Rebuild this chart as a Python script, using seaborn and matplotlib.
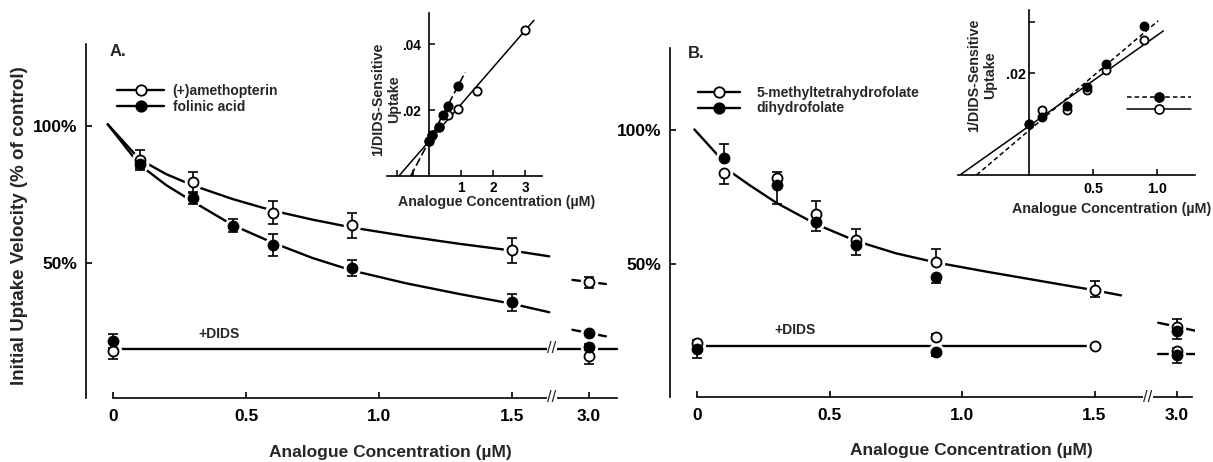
import matplotlib
matplotlib.use("Agg")
import matplotlib.pyplot as plt
import seaborn as sns
from matplotlib.lines import Line2D

# ---------------- data ----------------
# Panel A main plot (% of control)
a_ameth_x = [0.1, 0.3, 0.6, 0.9, 1.5]
a_ameth_y = [87.7, 79.8, 68.6, 63.9, 54.8]
a_ameth_err = [3.6, 3.6, 4.1, 4.7, 4.6]
a_fol_x = [0.1, 0.3, 0.45, 0.6, 0.9, 1.5]
a_fol_y = [86.2, 73.8, 63.8, 56.6, 48.4, 35.8]
a_fol_err = [1.2, 2.0, 2.4, 4.0, 2.9, 3.1]
a_curve_x = [-0.02, 0.1, 0.2, 0.3, 0.45, 0.6, 0.75, 0.9, 1.1, 1.3, 1.5, 1.64]
a_ameth_curve = [100.8, 88.0, 82.6, 78.5, 73.5, 69.3, 66.0, 63.1, 60.0, 57.2, 54.7, 52.6]
a_fol_curve = [100.8, 86.0, 78.6, 72.6, 64.0, 57.6, 52.0, 47.4, 42.8, 38.9, 35.3, 32.2]
a_ameth_3 = 43.2
a_ameth_3_err = 2.0
a_ameth_3_seg = [44.0, 42.5]
a_fol_3 = 24.6
a_fol_3_seg = [25.8, 23.4]
a_dids_ameth = [18.1, 16.4]      # at 0 and 3.0 uM
a_dids_ameth_err = [3.0, 3.0]
a_dids_fol = [21.6, 19.5]
a_dids_fol_err = [2.6, 1.0]
a_dids_level = 18.8

# Panel B main plot
b_mthf_x = [0.1, 0.3, 0.45, 0.6, 0.9, 1.5]
b_mthf_y = [83.8, 82.0, 68.7, 59.0, 50.9, 40.3]
b_mthf_err_lo = [3.9, 0.0, 0.0, 0.0, 0.0, 2.7]
b_mthf_err_hi = [0.0, 2.2, 4.8, 4.1, 4.7, 3.5]
b_dhf_x = [0.1, 0.3, 0.45, 0.6, 0.9]
b_dhf_y = [89.4, 79.5, 65.8, 57.1, 45.3]
b_dhf_err_lo = [0.0, 7.1, 3.4, 3.7, 2.3]
b_dhf_err_hi = [5.3, 0.0, 0.0, 0.0, 0.0]
b_curve_x = [-0.01, 0.07, 0.125, 0.2, 0.3, 0.45, 0.6, 0.75, 0.9, 1.1, 1.3, 1.5, 1.6]
b_curve_y = [100.2, 91.5, 84.5, 79.3, 72.8, 64.8, 58.6, 54.0, 50.6, 47.0, 43.6, 40.2, 38.3]
b_hi3_mthf, b_hi3_mthf_err = 26.6, 2.8
b_hi3_dhf, b_hi3_dhf_err = 25.1, 3.2
b_hi3_seg = [28.1, 25.1]
b_lo3_mthf, b_lo3_mthf_err = 17.5, 1.3
b_lo3_dhf, b_lo3_dhf_err = 16.0, 2.8
b_lo3_seg = [16.4, 16.4]
b_dids_x = [0.0, 0.9, 1.5]
b_dids_mthf = [20.4, 22.9, 19.5]
b_dids_mthf_err = [1.2, 1.0, 0.0]
b_dids_dhf_x = [0.0, 0.9]
b_dids_dhf = [18.2, 17.3]
b_dids_dhf_err = [3.4, 1.6]
b_dids_level = 19.3

# Inset A (1/DIDS-sensitive uptake)
ia_ameth_x = [0, 0.1, 0.3, 0.6, 0.9, 1.5, 3.0]
ia_ameth_y = [0.0105, 0.0125, 0.0148, 0.0184, 0.0203, 0.0259, 0.0441]
ia_fol_x = [0, 0.1, 0.3, 0.45, 0.6, 0.9]
ia_fol_y = [0.0105, 0.0125, 0.0148, 0.0184, 0.0211, 0.0272]
ia_ameth_fit_x = [-0.94, 3.28]
ia_ameth_fit_y = [0.0, 0.0472]
ia_fol_fit_x = [-0.57, 1.13]
ia_fol_fit_y = [0.0, 0.0314]

# Inset B
ib_x = [0, 0.1, 0.3, 0.45, 0.6, 0.9]
ib_mthf_y = [0.0101, 0.0127, 0.0128, 0.0167, 0.0207, 0.0266]
ib_dhf_y = [0.0101, 0.0114, 0.0135, 0.0172, 0.0217, 0.0292]
ib_mthf_fit_x = [-0.54, 1.05]
ib_mthf_fit_y = [0.0, 0.0283]
ib_dhf_fit_x = [-0.41, 1.01]
ib_dhf_fit_y = [0.0, 0.0303]

main_ticks = [0, 0.5, 1.0, 1.5]
main_ticklabels = ["0", "0.5", "1.0", "1.5", "3.0"]

# ---------------- style ----------------
sns.set_theme(style="ticks")
plt.rcParams["font.family"] = ["Liberation Sans", "DejaVu Sans"]
plt.rcParams["font.weight"] = "bold"
plt.rcParams["axes.linewidth"] = 1.2
plt.rcParams["axes.edgecolor"] = "black"
plt.rcParams["xtick.color"] = "black"
plt.rcParams["ytick.color"] = "black"

W, H = 1213, 462
fig = plt.figure(figsize=(W / 100, H / 100), dpi=100)


def rect(l, t, r, b):
    return [l / W, 1 - b / H, (r - l) / W, (b - t) / H]


def fx(px):
    return px / W


def fy(py):
    return 1 - py / H


LW = 1.7
S_MAIN = 52
S_HALO = 160
BRK = dict(ha="center", va="center", fontsize=12, fontweight="normal",
           bbox=dict(facecolor="white", edgecolor="none", pad=0.3), zorder=7,
           clip_on=False)


def curve(ax, x, y, ls="-", lw=LW, z=2):
    sns.lineplot(x=x, y=y, ax=ax, color="black", lw=lw, linestyle=ls,
                 sort=False, estimator=None, zorder=z)


def points(ax, x, y, err, filled, s=S_MAIN, halo=S_HALO, cap=3.3):
    x = list(x)
    y = list(y)
    if halo:
        sns.scatterplot(x=x, y=y, ax=ax, s=halo, color="white", linewidth=0,
                        zorder=3, legend=False)
    if err is not None:
        ax.errorbar(x, y, yerr=err, fmt="none", ecolor="black", elinewidth=1.2,
                    capsize=cap, capthick=1.2, zorder=4)
    sns.scatterplot(x=x, y=y, ax=ax, s=s, color="black" if filled else "white",
                    edgecolor="black", linewidth=1.3, zorder=6 if filled else 5,
                    legend=False)


def setup_main(ax, xlim, ylim, xend, pos3, brk):
    ax.set_xlim(*xlim)
    ax.set_ylim(*ylim)
    ax.patch.set_alpha(0)
    for s in ["top", "right"]:
        ax.spines[s].set_visible(False)
    ax.spines["bottom"].set_bounds(0, xend)
    ax.set_xticks(main_ticks + [pos3])
    ax.set_xticklabels(main_ticklabels)
    ax.set_yticks([50, 100])
    ax.set_yticklabels(["50%", "100%"])
    ax.tick_params(axis="both", direction="in", length=4, width=1.2,
                   labelsize=12.5)
    ax.tick_params(axis="x", pad=8)
    ax.tick_params(axis="y", pad=6)
    for lab in ax.get_xticklabels() + ax.get_yticklabels():
        lab.set_fontweight("bold")
    ax.text(brk, 0, "//", transform=ax.get_xaxis_transform(), **BRK)


# ================= Panel A =================
A_POS3, A_BRK = 1.79, 1.65
axA = fig.add_axes(rect(86, 44, 620, 398))
setup_main(axA, (-0.1015, 1.906), (0.9, 130.1), 1.895, A_POS3, A_BRK)

curve(axA, a_curve_x, a_ameth_curve)
curve(axA, a_curve_x, a_fol_curve)
curve(axA, [A_POS3 - 0.063, A_POS3 + 0.063], a_ameth_3_seg)
curve(axA, [A_POS3 - 0.063, A_POS3 + 0.063], a_fol_3_seg)
curve(axA, [0.02, 1.895], [a_dids_level, a_dids_level])
axA.text(A_BRK, a_dids_level, "//", **BRK)

points(axA, a_ameth_x + [A_POS3], a_ameth_y + [a_ameth_3], a_ameth_err + [a_ameth_3_err], False)
points(axA, a_fol_x + [A_POS3], a_fol_y + [a_fol_3], a_fol_err + [0.0], True)
points(axA, [0, A_POS3], a_dids_ameth, a_dids_ameth_err, False)
points(axA, [0, A_POS3], a_dids_fol, a_dids_fol_err, True)

axA.legend(
    handles=[Line2D([], [], color="black", lw=LW, marker="o", mfc="white", mec="black", ms=7.5, mew=1.3),
             Line2D([], [], color="black", lw=LW, marker="o", mfc="black", mec="black", ms=7.5, mew=1.3)],
    labels=["(+)amethopterin", "folinic acid"], loc="upper left",
    bbox_to_anchor=(fx(117), fy(84)), bbox_transform=fig.transFigure,
    frameon=False, borderpad=0, borderaxespad=0, handlelength=3.4,
    handletextpad=0.6, labelspacing=0.15, prop=dict(weight="bold", size=10))

fig.text(fx(110), fy(52), "A.", ha="left", va="center", fontsize=12, fontweight="bold")
fig.text(fx(219), fy(334), "+DIDS", ha="center", va="center", fontsize=10, fontweight="bold")
fig.text(fx(390), fy(452), "Analogue Concentration (\u00b5M)", ha="center", va="center",
         fontsize=12.5, fontweight="bold")
fig.text(fx(20), fy(226), "Initial Uptake Velocity (% of control)", ha="center", va="center",
         rotation=90, fontsize=13.5, fontweight="bold")

# ----- inset A -----
iA = fig.add_axes(rect(387, 13, 542, 176))
iA.set_xlim(-1.31, 3.53)
iA.set_ylim(0, 0.0494)
iA.patch.set_alpha(0)
for s in ["top", "right"]:
    iA.spines[s].set_visible(False)
iA.spines["left"].set_position(("data", 0))
iA.set_xticks([-1, -0.5, 1, 2, 3])
iA.set_xticklabels(["", "", "1", "2", "3"])
iA.set_yticks([0.02, 0.04])
iA.set_yticklabels([".02", ".04"])
iA.tick_params(direction="in", length=4, width=1.1, labelsize=9.8)
iA.tick_params(axis="x", pad=3.5)
iA.tick_params(axis="y", pad=6)
for lab in iA.get_xticklabels() + iA.get_yticklabels():
    lab.set_fontweight("bold")
curve(iA, ia_ameth_fit_x, ia_ameth_fit_y, lw=1.1)
curve(iA, ia_fol_fit_x, ia_fol_fit_y, ls=(0, (5, 2)), lw=1.2)
points(iA, ia_fol_x, ia_fol_y, None, True, s=36, halo=0)
points(iA, ia_ameth_x, ia_ameth_y, None, False, s=36, halo=0)
fig.text(fx(386), fy(99), "1/DIDS-Sensitive\nUptake", ha="center", va="center",
         rotation=90, fontsize=10.3, fontweight="bold", linespacing=1.2)
fig.text(fx(497), fy(202), "Analogue Concentration (\u00b5M)", ha="center", va="center",
         fontsize=10.2, fontweight="bold")

# ================= Panel B =================
B_POS3, B_BRK = 1.81, 1.70
axB = fig.add_axes(rect(670, 48, 1195, 397))
setup_main(axB, (-0.102, 1.879), (0.37, 130.6), 1.868, B_POS3, B_BRK)

curve(axB, b_curve_x, b_curve_y)
curve(axB, [0.02, 1.5], [b_dids_level, b_dids_level])
curve(axB, [B_POS3 - 0.07, B_POS3 + 0.07], b_hi3_seg)
curve(axB, [B_POS3 - 0.07, B_POS3 + 0.07], b_lo3_seg)

points(axB, b_mthf_x, b_mthf_y, [b_mthf_err_lo, b_mthf_err_hi], False)
points(axB, b_dhf_x, b_dhf_y, [b_dhf_err_lo, b_dhf_err_hi], True)
points(axB, b_dids_x, b_dids_mthf, [[0, 0, 0], b_dids_mthf_err], False)
points(axB, b_dids_dhf_x, b_dids_dhf, [b_dids_dhf_err, [0, 0]], True)
points(axB, [B_POS3, B_POS3], [b_hi3_mthf, b_lo3_mthf], [[0, 0], [b_hi3_mthf_err, b_lo3_mthf_err]], False)
points(axB, [B_POS3, B_POS3], [b_hi3_dhf, b_lo3_dhf], [[b_hi3_dhf_err, b_lo3_dhf_err], [0, 0]], True)

axB.legend(
    handles=[Line2D([], [], color="black", lw=LW, marker="o", mfc="white", mec="black", ms=7.5, mew=1.3),
             Line2D([], [], color="black", lw=LW, marker="o", mfc="black", mec="black", ms=7.5, mew=1.3)],
    labels=["5-methyltetrahydrofolate", "dihydrofolate"], loc="upper left",
    bbox_to_anchor=(fx(698), fy(86)), bbox_transform=fig.transFigure,
    frameon=False, borderpad=0, borderaxespad=0, handlelength=3.0,
    handletextpad=1.2, labelspacing=0.1, prop=dict(weight="bold", size=10))

fig.text(fx(688), fy(53), "B.", ha="left", va="center", fontsize=12, fontweight="bold")
fig.text(fx(795), fy(330), "+DIDS", ha="center", va="center", fontsize=10, fontweight="bold")
fig.text(fx(971), fy(450), "Analogue Concentration (\u00b5M)", ha="center", va="center",
         fontsize=12.5, fontweight="bold")

# ----- inset B -----
iB = fig.add_axes(rect(958, 10, 1195, 175))
iB.set_xlim(-0.555, 1.297)
iB.set_ylim(0, 0.0324)
iB.patch.set_alpha(0)
for s in ["top", "right"]:
    iB.spines[s].set_visible(False)
iB.spines["left"].set_position(("data", 0))
iB.set_xticks([0.5, 1.0])
iB.set_xticklabels(["0.5", "1.0"])
iB.set_yticks([0.02, 0.03])
iB.set_yticklabels([".02", ""])
iB.tick_params(direction="in", length=4, width=1.1, labelsize=10.3)
iB.tick_params(axis="x", pad=5)
iB.tick_params(axis="y", pad=2)
for lab in iB.get_xticklabels() + iB.get_yticklabels():
    lab.set_fontweight("bold")
curve(iB, ib_mthf_fit_x, ib_mthf_fit_y, lw=1.1)
curve(iB, ib_dhf_fit_x, ib_dhf_fit_y, ls=(0, (3, 2)), lw=1.1)
points(iB, ib_x, ib_mthf_y, None, False, s=34, halo=0)
points(iB, ib_x, ib_dhf_y, None, True, s=34, halo=0)
iB.legend(
    handles=[Line2D([], [], color="black", lw=1.1, ls=(0, (3, 2)), marker="o", mfc="black", mec="black", ms=6.5, mew=1.2),
             Line2D([], [], color="black", lw=1.1, marker="o", mfc="white", mec="black", ms=6.5, mew=1.2)],
    labels=[" ", " "], loc="upper left",
    bbox_to_anchor=(fx(1127), fy(91)), bbox_transform=fig.transFigure,
    frameon=False, borderpad=0, borderaxespad=0, handlelength=4.6,
    handletextpad=0, labelspacing=-0.15, prop=dict(weight="bold", size=10))
fig.text(fx(982), fy(75), "1/DIDS-Sensitive\nUptake", ha="center", va="center",
         rotation=90, fontsize=10.3, fontweight="bold", linespacing=1.2)
fig.text(fx(1112), fy(209), "Analogue Concentration (\u00b5M)", ha="center", va="center",
         fontsize=10.3, fontweight="bold")

fig.savefig("out.png", dpi=100, facecolor="white")
